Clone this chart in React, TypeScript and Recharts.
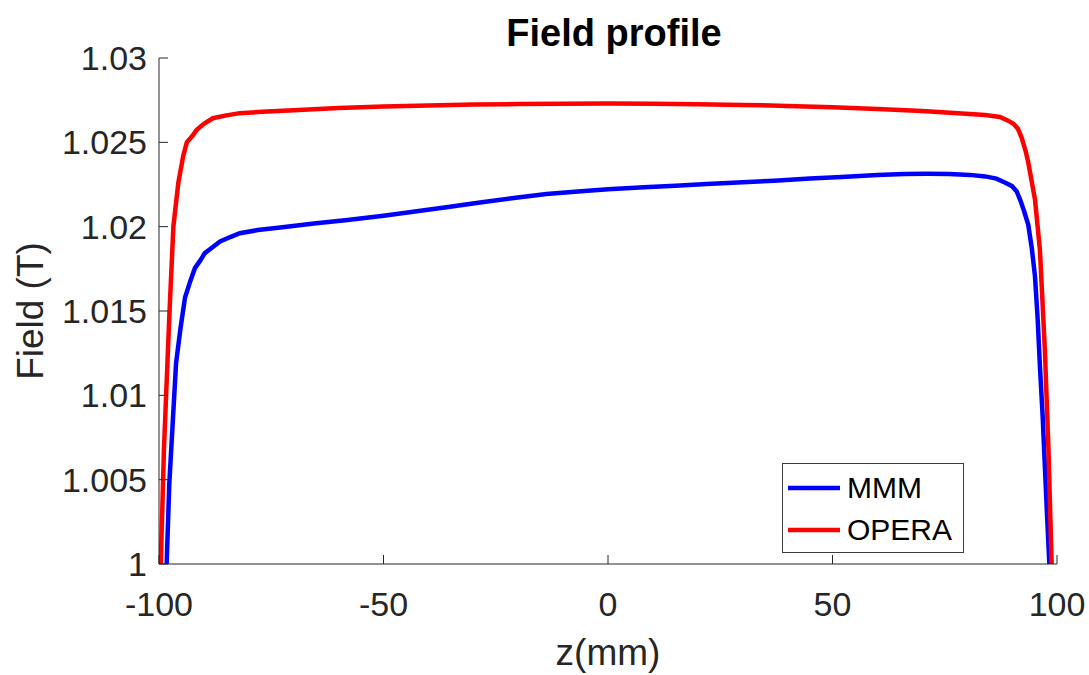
import { LineChart, Line, XAxis, YAxis, Legend, Label } from "recharts";

// ── data ──────────────────────────────────────────────────────

const MMM_Z = [
  -100, -98.3, -97.7, -96.2, -95.2, -94.2, -93, -92, -90.8, -89.8, -88, -86.4, -84, -82, -78, -73,
  -65, -58, -50, -43, -36, -28.5, -21, -13.7, -6, 0, 8, 15, 22, 30, 37, 45, 52, 60, 66, 71, 76,
  80.6, 84, 86.5, 88.5, 90, 91, 91.8, 92.7, 93.6, 94.4, 95.1, 95.7, 96.2, 96.8, 97.3, 97.8, 98.3, 99,
];
const MMM_B = [
  0.995, 1.0, 1.0048, 1.0119, 1.014, 1.0158, 1.0168, 1.01754, 1.018, 1.01843, 1.0188, 1.01912,
  1.0194, 1.01961, 1.0198, 1.01995, 1.0202, 1.0204, 1.02065, 1.0209, 1.02115, 1.02143, 1.0217,
  1.02193, 1.0221, 1.02222, 1.02234, 1.02242, 1.02253, 1.02264, 1.02272, 1.02285, 1.02295, 1.02307,
  1.02312, 1.02313, 1.02312, 1.02307, 1.02298, 1.02285, 1.0226, 1.0224, 1.0221, 1.02159, 1.0209,
  1.02011, 1.0187, 1.01704, 1.0145, 1.0117, 1.0088, 1.00577, 1.0028, 1.0, 0.995,
];

const OPERA_Z = [
  -100, -99.6, -98.9, -97.7, -96.8, -95.7, -94.6, -93.8, -92.5, -91.6, -90, -88, -85, -82, -76,
  -70, -60, -50, -40, -30, -20, -10, 0, 10, 20, 30, 40, 50, 60, 70, 78, 84, 87.3, 89, 90.3, 91.3,
  92.1, 93, 93.6, 95.1, 96.2, 97.3, 98.1, 98.8, 99.5,
];
const OPERA_B = [
  0.995, 1.0, 1.0068, 1.0147, 1.02, 1.0226, 1.0242, 1.025, 1.0254, 1.02574, 1.0261, 1.02643,
  1.0266, 1.02673, 1.02683, 1.0269, 1.02703, 1.02712, 1.02719, 1.02724, 1.02727, 1.02729, 1.0273,
  1.02729, 1.02726, 1.02722, 1.02716, 1.02708, 1.02698, 1.02686, 1.02673, 1.02662, 1.0265, 1.0263,
  1.0261, 1.0258, 1.0253, 1.0245, 1.0238, 1.0216, 1.0186, 1.0127, 1.0068, 1.0, 0.995,
];

const X_TICKS = [-100, -50, 0, 50, 100];
const Y_TICKS = [1, 1.005, 1.01, 1.015, 1.02, 1.025, 1.03];

const SERIES = [
  { name: "MMM", color: "#0000ff" },
  { name: "OPERA", color: "#ff0000" },
];

const mmmData = MMM_Z.map((z, i) => ({ z, b: MMM_B[i] }));
const operaData = OPERA_Z.map((z, i) => ({ z, b: OPERA_B[i] }));

// ── styling ───────────────────────────────────────────────────

const FONT = "'Liberation Sans', Arial, Helvetica, sans-serif";
const AXIS = "#262626";
const TICK_LEN = 9;
const Y_MARGIN = 12;
const X_MARGIN = 40;
const LINE_W = 4.5;

// inward tick marks, matlab style
function YTick({ x, y, payload }: any) {
  const ax = x + Y_MARGIN;
  return (
    <g>
      <line x1={ax} x2={ax + TICK_LEN} y1={y} y2={y} stroke={AXIS} strokeWidth={1} />
      <text x={x} y={y} textAnchor="end" dominantBaseline="central"
        fontFamily={FONT} fontSize={34} fill={AXIS}>
        {String(payload.value)}
      </text>
    </g>
  );
}

function XTick({ x, y, payload }: any) {
  const ay = y - X_MARGIN;
  return (
    <g>
      <line x1={x} x2={x} y1={ay} y2={ay - TICK_LEN} stroke={AXIS} strokeWidth={1} />
      <text x={x} y={y} textAnchor="middle" dominantBaseline="central"
        fontFamily={FONT} fontSize={34} fill={AXIS}>
        {String(payload.value)}
      </text>
    </g>
  );
}

function LegendBox() {
  return (
    <div style={{
      boxSizing: "border-box", width: 182, height: 90, border: "1px solid #3c3c3c",
      background: "#fff", padding: "3px 0 0 4px", fontFamily: FONT,
    }}>
      {SERIES.map((s) => (
        <div key={s.name} style={{ display: "flex", alignItems: "center", height: 42 }}>
          <svg width={54} height={10} style={{ display: "block" }}>
            <line x1={1} x2={53} y1={5} y2={5} stroke={s.color} strokeWidth={LINE_W} />
          </svg>
          <span style={{ fontSize: 30, color: "#000", marginLeft: 6, lineHeight: "30px" }}>
            {s.name}
          </span>
        </div>
      ))}
    </div>
  );
}

export default function App() {
  return (
    <div style={{ position: "absolute", left: 0, top: 0, width: 1089, height: 675, background: "#fff" }}>
      <div style={{
        position: "absolute", left: 0, top: 14, width: 1228, textAlign: "center",
        fontFamily: FONT, fontWeight: 700, fontSize: 38, lineHeight: "38px", color: "#000",
      }}>
        Field profile
      </div>
      <LineChart width={1089} height={675} margin={{ top: 58, right: 32, bottom: 0, left: 0 }}>
        <XAxis
          type="number" dataKey="z" domain={[-100, 100]} ticks={X_TICKS}
          allowDataOverflow height={111} tickSize={0} tickMargin={X_MARGIN}
          tick={<XTick />} stroke={AXIS} axisLine={{ stroke: AXIS, strokeWidth: 1 }}
        >
          <Label content={(p: any) => {
            const vb = p.viewBox ?? { x: 159, y: 564, width: 898, height: 111 };
            return (
              <text x={vb.x + vb.width / 2} y={vb.y + 101} textAnchor="middle"
                fontFamily={FONT} fontSize={37} fill={AXIS}>z(mm)</text>
            );
          }} />
        </XAxis>
        <YAxis
          type="number" domain={[1, 1.03]} ticks={Y_TICKS} allowDataOverflow
          width={159} tickSize={0} tickMargin={Y_MARGIN}
          tick={<YTick />} stroke={AXIS} axisLine={{ stroke: AXIS, strokeWidth: 1 }}
        >
          <Label content={(p: any) => {
            const vb = p.viewBox ?? { x: 0, y: 58, width: 159, height: 506 };
            const cx = vb.x + 43;
            const cy = vb.y + vb.height / 2;
            return (
              <text x={cx} y={cy} transform={`rotate(-90, ${cx}, ${cy})`} textAnchor="middle"
                fontFamily={FONT} fontSize={37} fill={AXIS}>Field (T)</text>
            );
          }} />
        </YAxis>
        <Legend
          layout="horizontal" verticalAlign="middle" align="center"
          content={<LegendBox />}
          wrapperStyle={{ left: 782, top: 463, width: 182, height: 90 }}
        />
        <Line data={mmmData} dataKey="b" name="MMM" type="linear" stroke={SERIES[0].color}
          strokeWidth={LINE_W} dot={false} isAnimationActive={false} />
        <Line data={operaData} dataKey="b" name="OPERA" type="linear" stroke={SERIES[1].color}
          strokeWidth={LINE_W} dot={false} isAnimationActive={false} />
      </LineChart>
    </div>
  );
}
